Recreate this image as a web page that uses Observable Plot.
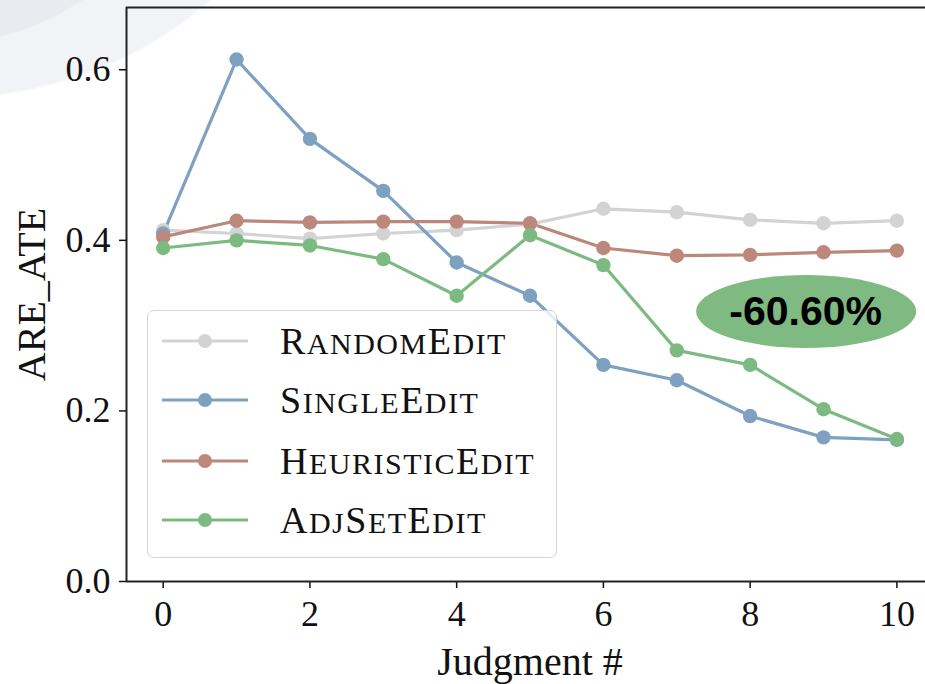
<!DOCTYPE html>
<html><head><meta charset="utf-8">
<script src="https://cdn.jsdelivr.net/npm/d3@7"></script>
<script src="https://cdn.jsdelivr.net/npm/@observablehq/plot@0.6"></script>
<style>
html,body{margin:0;padding:0;}
body{width:925px;height:684px;overflow:hidden;position:relative;
background:
 radial-gradient(ellipse 250px 245px at -60px -200px, #e8ebef 99%, rgba(255,255,255,0) 100%),
 radial-gradient(ellipse 366px 300px at -60px -200px, #f1f3f6 99%, rgba(255,255,255,0) 100%),
 #ffffff;}
#chart{position:absolute;left:0;top:0;}
#legend{position:absolute;left:147px;top:310px;width:408px;height:246px;border:1.5px solid #d4d4d4;border-radius:7px;background:rgba(255,255,255,0.8);}
.row{position:absolute;left:0;height:60px;width:100%;}
.row svg{position:absolute;left:14px;top:0;}
.row .lbl{position:absolute;left:132px;top:0;line-height:60px;font-family:"Liberation Serif",serif;font-size:38px;letter-spacing:1.5px;color:#111;white-space:nowrap;}
.row .sc{font-size:30px;}
</style>
</head><body>
<div id="chart"></div>
<div id="legend"></div>
<script>
const judgments = [0, 1, 2, 3, 4, 5, 6, 7, 8, 9, 10];
const seriesNames = ["RandomEdit", "SingleEdit", "HeuristicEdit", "AdjSetEdit"];
const seriesColors = ["#d3d3d3", "#7ea1c1", "#bb887b", "#7dba81"];
const randomEdit    = [0.412, 0.408, 0.402, 0.408, 0.412, 0.419, 0.437, 0.433, 0.424, 0.420, 0.423];
const singleEdit    = [0.408, 0.612, 0.519, 0.458, 0.374, 0.335, 0.254, 0.236, 0.194, 0.169, 0.166];
const heuristicEdit = [0.404, 0.423, 0.421, 0.422, 0.422, 0.420, 0.391, 0.382, 0.383, 0.386, 0.388];
const adjSetEdit    = [0.391, 0.400, 0.394, 0.378, 0.335, 0.406, 0.371, 0.271, 0.254, 0.202, 0.167];
const xTicks = [0, 2, 4, 6, 8, 10];
const yTicks = [0, 0.2, 0.4, 0.6];
const annotation = [{x: 8.77, y: 0.316, label: "-60.60%"}];

const allValues = [randomEdit, singleEdit, heuristicEdit, adjSetEdit];
const rows = seriesNames.flatMap((name, s) => judgments.map((j, i) => ({j, v: allValues[s][i], name})));
const xDomain = [-0.5, 10.39];
const yDomain = [0, 0.673];

const ellipseMark = (index, scales) => {
  const ns = "http://www.w3.org/2000/svg";
  const g = document.createElementNS(ns, "g");
  for (const a of annotation) {
    const e = document.createElementNS(ns, "ellipse");
    e.setAttribute("cx", scales.x(a.x));
    e.setAttribute("cy", scales.y(a.y));
    e.setAttribute("rx", 110);
    e.setAttribute("ry", 36.5);
    e.setAttribute("fill", "#7fba82");
    g.appendChild(e);
  }
  return g;
};

const chart = Plot.plot({
  width: 925, height: 684,
  marginLeft: 126, marginRight: 0, marginTop: 7, marginBottom: 103,
  style: {fontFamily: "'Liberation Serif', serif", fontSize: "36px", background: "transparent", color: "#111"},
  x: {domain: xDomain},
  y: {domain: yDomain},
  color: {domain: seriesNames, range: seriesColors},
  marks: [
    Plot.axisX({ticks: xTicks, tickSize: 7, tickPadding: 12, label: null, fontSize: 36, strokeWidth: 1.5}),
    Plot.axisY({ticks: yTicks, tickSize: 7, tickPadding: 9, tickFormat: d3.format(".1f"), label: null, fontSize: 36, strokeWidth: 1.5}),
    Plot.ruleY([yDomain[0]], {stroke: "#222", strokeWidth: 2}),
    Plot.ruleY([yDomain[1]], {stroke: "#222", strokeWidth: 2}),
    Plot.ruleX([xDomain[0]], {stroke: "#222", strokeWidth: 2}),
    Plot.text(["Judgment #"], {frameAnchor: "bottom", dy: 93, dx: 4, fontSize: 40, lineAnchor: "bottom"}),
    Plot.text(["ARE_ATE"], {frameAnchor: "left", dx: -94, rotate: -90, fontSize: 40, textAnchor: "middle", lineAnchor: "middle"}),
    ellipseMark,
    Plot.text(annotation, {x: "x", y: "y", text: "label", fontFamily: "'Liberation Sans', Arial, sans-serif", fontWeight: "bold", fontSize: 41, fill: "#000", lineAnchor: "middle", dx: -1}),
    ...seriesNames.map(name => Plot.line(rows.filter(d => d.name === name), {x: "j", y: "v", stroke: "name", strokeWidth: 3.2})),
    ...seriesNames.map(name => Plot.dot(rows.filter(d => d.name === name), {x: "j", y: "v", fill: "name", r: 7.2})),
  ]
});
document.getElementById("chart").appendChild(chart);

// legend with manual small caps
const smallCaps = s => s.replace(/[a-z]+/g, m => `<span class="sc">${m.toUpperCase()}</span>`);
const legend = document.getElementById("legend");
const rowCenters = [30, 89, 150, 209];
seriesNames.forEach((name, i) => {
  const row = document.createElement("div");
  row.className = "row";
  row.style.top = (rowCenters[i] - 30) + "px";
  row.innerHTML = `<svg width="90" height="60"><line x1="0" x2="86" y1="30" y2="30" stroke="${seriesColors[i]}" stroke-width="3"/><circle cx="43" cy="30" r="7" fill="${seriesColors[i]}"/></svg><span class="lbl">${smallCaps(name)}</span>`;
  legend.appendChild(row);
});
</script>
</body></html>
